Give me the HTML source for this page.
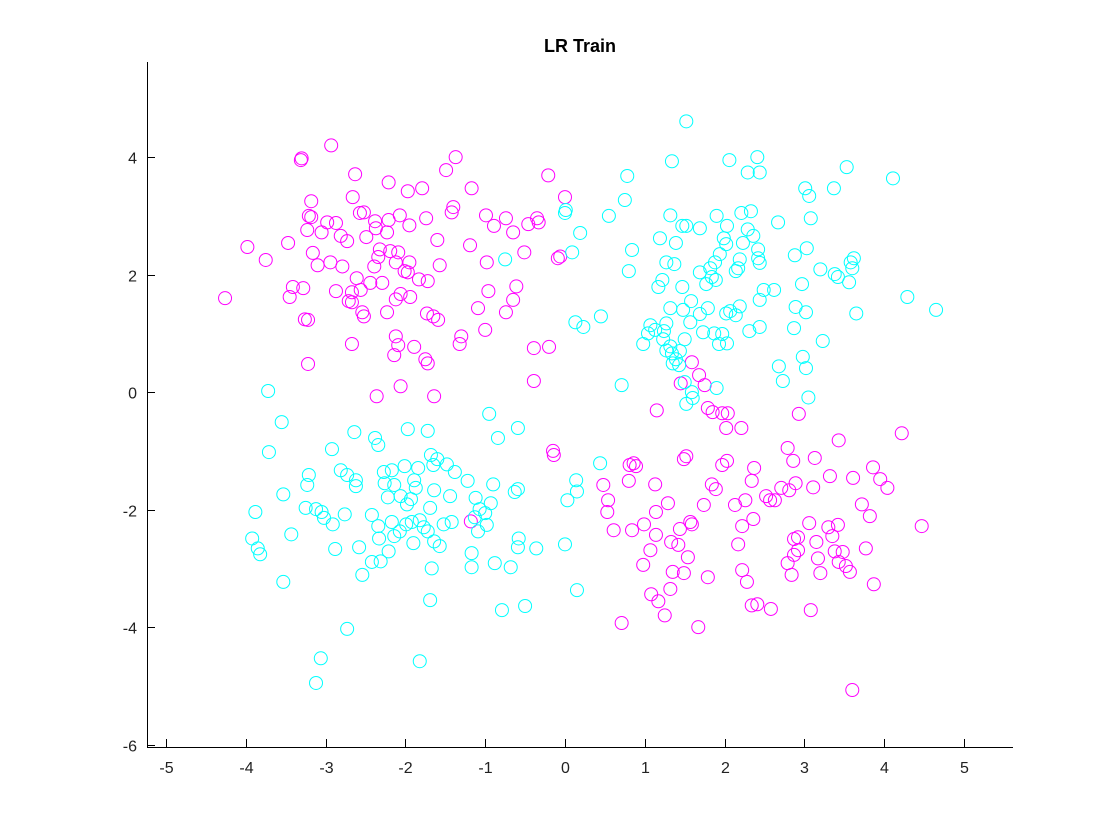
<!DOCTYPE html>
<html><head><meta charset="utf-8"><style>
body{margin:0;background:#fff;}
svg{display:block;font-family:"Liberation Sans",sans-serif;}
</style></head><body>
<svg id="chart" width="1120" height="840" viewBox="0 0 1120 840">
<rect width="1120" height="840" fill="#fff"/>
<text x="580" y="52" text-anchor="middle" font-size="18" font-weight="bold" fill="#000">LR Train</text>
<g id="marks"></g>
<g id="axes"></g>
</svg>
<script>
const xTicks=[-5,-4,-3,-2,-1,0,1,2,3,4,5];
const yTicks=[-6,-4,-2,0,2,4];
const magentaX=[-3.30,-3.31,-2.93,-1.37,-3.98,-3.75,-3.47,-4.26,-3.45,-3.41,-3.28,-3.10,-3.05,-3.21,-3.18,-3.18,-2.63,-2.21,-1.97,-1.79,-1.49,-1.17,-1.40,-1.42,-1.19,-0.99,-0.89,-0.74,-0.65,-0.46,-0.33,-0.35,-0.21,0.00,-0.09,-0.51,-0.61,-0.74,-0.98,-0.96,-1.09,-1.00,-1.30,-1.57,-1.72,-1.60,-1.74,-1.95,-1.95,-1.83,-1.94,-2.01,-1.97,-2.19,-2.21,-2.37,-2.34,-2.39,-2.57,-2.52,-2.73,-2.79,-2.87,-2.67,-2.54,-2.52,-2.71,-2.67,-2.49,-2.38,-2.23,-2.09,-2.12,-2.06,-2.12,-1.73,-1.59,-1.65,-1.75,-1.72,-1.89,-2.12,-2.09,-2.14,-2.23,-2.56,-2.94,-2.98,-2.81,-2.87,-2.61,-2.44,-2.29,-2.32,-3.23,-3.22,-3.26,-3.22,-2.67,-2.36,-2.06,-1.64,-1.18,-0.65,-0.39,-0.20,-0.39,-0.15,-0.14,-0.06,-1.32,-2.66,-2.07,-3.16,
0.48,0.54,0.53,0.81,0.86,0.89,0.80,0.61,0.84,0.98,1.08,1.17,1.25,1.42,1.44,1.49,1.54,1.52,1.49,1.57,1.59,1.74,1.79,1.84,1.89,1.97,2.03,1.97,2.02,2.13,2.17,2.26,2.22,2.28,2.36,2.34,2.52,2.57,2.71,2.81,2.63,2.37,2.21,2.04,1.85,1.79,1.75,1.68,1.59,1.45,1.15,1.13,1.14,0.99,1.14,1.33,1.35,1.32,1.29,1.07,0.71,1.67,2.22,2.34,2.58,2.87,2.87,2.79,2.84,2.92,2.89,2.79,2.86,3.13,3.11,2.93,3.43,3.32,3.61,3.86,3.95,4.04,3.72,3.82,3.42,3.30,3.35,3.38,3.48,3.43,3.52,3.17,3.15,3.20,2.92,3.77,3.87,3.08,3.57,3.06,3.60,4.22,4.47,2.41];
const magentaY=[3.98,3.95,4.20,4.00,2.47,2.25,2.54,1.60,1.62,1.79,1.77,2.16,2.72,3.00,3.25,2.98,3.71,3.57,3.42,3.47,3.78,3.47,3.15,3.06,2.50,3.01,2.83,2.96,2.72,2.86,2.89,2.96,3.69,3.32,2.28,2.38,1.80,1.36,2.21,1.72,1.43,1.06,0.95,2.16,1.89,2.59,2.96,2.84,2.21,1.92,1.62,2.06,2.04,2.40,2.93,2.79,2.30,2.14,3.05,3.06,2.57,2.14,1.72,1.53,1.36,1.29,1.55,1.70,2.64,2.91,2.72,2.38,2.21,1.67,1.58,1.34,1.23,1.29,0.56,0.49,0.77,0.95,0.80,0.63,1.36,1.74,2.21,2.89,2.66,2.88,1.94,1.86,1.86,2.43,2.76,1.23,1.24,0.48,0.82,-0.07,0.10,-0.07,-2.20,1.57,0.75,0.77,0.19,-1.00,-1.07,2.31,0.82,3.32,3.01,2.37,
-1.58,-1.84,-2.04,-1.24,-1.21,-1.26,-1.51,-2.35,-2.35,-2.94,-3.44,-3.56,-3.80,-2.60,-2.33,-3.08,-2.81,-1.09,-1.14,-2.21,-2.25,-1.92,-3.15,-1.57,-1.65,-1.24,-1.17,-0.36,-0.61,-1.92,-2.59,-1.84,-2.28,-3.23,-2.16,-1.51,-1.77,-1.84,-1.63,-1.67,-1.84,-1.29,-0.61,-0.36,-0.34,-0.27,0.12,0.29,0.51,0.15,-0.31,-1.57,-2.04,-2.25,-2.43,-2.55,-3.06,-3.35,-1.89,-2.69,-3.93,-4.00,-3.03,-3.63,-3.69,-2.50,-2.77,-2.91,-3.11,-2.47,-1.55,-0.95,-1.17,-1.12,-1.62,-0.37,-0.82,-1.43,-1.46,-1.28,-1.48,-1.63,-1.91,-2.11,-2.26,-2.30,-2.45,-2.71,-2.72,-2.89,-2.96,-2.83,-2.55,-3.08,-2.69,-2.66,-3.27,-3.71,-3.06,-2.23,-5.07,-0.70,-2.28,-3.61];
const cyanX=[-3.72,-3.55,-3.71,-3.88,-3.92,-3.82,-3.85,-3.43,-3.53,-3.21,-3.23,-3.25,-3.12,-3.02,-3.05,-2.91,-2.92,-2.73,-2.62,-2.62,-2.64,-2.38,-2.34,-2.27,-2.26,-2.22,-2.17,-2.14,-2.06,-2.01,-1.93,-1.99,-1.98,-1.92,-2.07,-2.17,-2.14,-2.34,-2.42,-2.21,-2.33,-2.31,-2.42,-2.54,-2.58,-2.76,-2.81,-2.88,-3.06,-3.12,-3.53,-2.73,-1.97,-1.89,-1.84,-1.87,-1.82,-1.90,-1.77,-1.72,-1.69,-1.72,-1.68,-1.60,-1.65,-1.64,-1.64,-1.57,-1.52,-1.42,-1.44,-1.48,-1.38,-1.22,-1.12,-1.13,-1.07,-1.09,-1.00,-0.98,-0.90,-0.95,-0.84,-0.93,-0.88,-0.79,-0.63,-0.59,-0.58,-0.59,-0.68,-0.50,-0.36,-0.59,-0.75,-1.17,-1.17,-1.67,-1.69,-1.82,0.14,0.15,0.15,0.00,0.03,0.44,
1.52,1.34,0.78,0.75,0.55,0.80,0.84,0.00,0.01,0.19,0.09,0.13,0.23,0.45,0.71,1.07,1.13,1.24,1.23,1.27,1.32,1.34,1.27,1.32,1.48,1.57,1.50,1.44,1.39,1.35,1.43,1.50,1.59,1.52,1.60,1.90,1.93,2.03,1.97,1.87,1.73,1.69,1.79,1.89,1.84,1.77,1.69,1.82,1.88,1.94,2.02,1.99,2.03,2.14,2.17,2.19,2.23,2.29,2.33,2.21,2.29,2.06,2.41,2.44,2.36,2.42,2.42,2.44,2.49,2.44,2.19,2.14,2.07,2.02,2.31,2.44,2.62,2.67,2.88,2.97,2.89,3.02,3.20,3.03,3.08,3.01,3.06,3.37,3.53,3.38,3.42,3.58,3.60,3.62,3.56,3.65,3.23,2.98,3.05,2.73,2.68,2.87,3.02,4.11,4.29,4.65,1.58,1.47,1.17,1.22,1.27,1.37,1.39,1.69,1.90,1.52,1.47,1.19,0.98,1.04,1.32];
const cyanY=[0.02,-0.51,-1.02,-2.04,-2.49,-2.76,-2.66,-2.42,-1.74,-1.41,-1.58,-1.97,-1.99,-2.14,-2.04,-2.25,-0.97,-1.41,-1.60,-1.50,-0.68,-0.78,-0.90,-1.36,-1.55,-1.79,-1.33,-1.58,-1.77,-1.26,-1.82,-2.25,-1.91,-2.21,-2.37,-2.21,-2.45,-2.28,-2.09,-2.71,-2.49,-2.88,-2.89,-3.11,-2.64,-2.08,-1.33,-2.67,-4.53,-4.95,-3.23,-4.03,-0.63,-1.50,-1.29,-1.63,-2.18,-2.57,-2.30,-2.37,-1.97,-0.66,-1.07,-1.14,-1.24,-1.67,-2.54,-2.62,-2.25,-2.21,-1.77,-1.23,-1.36,-1.51,-1.80,-2.13,-1.99,-2.37,-2.06,-2.26,-1.57,-0.37,-0.78,-1.89,-2.91,-3.71,-1.70,-1.65,-2.49,-2.64,-2.98,-3.64,-2.66,-0.61,2.26,-2.98,-2.74,-3.00,-3.54,-4.58,-1.50,-1.69,-3.37,-2.59,-1.84,-1.21,
4.61,3.93,3.68,3.27,3.00,2.06,2.42,3.05,3.10,2.71,2.38,1.19,1.11,1.29,0.12,1.14,1.06,1.04,0.90,0.71,0.78,0.66,1.17,1.43,1.40,1.19,0.90,0.70,0.56,0.49,0.46,0.17,0.00,-0.20,-0.10,0.07,0.82,0.83,0.99,1.00,1.02,1.33,1.43,1.91,1.96,1.84,2.04,2.11,2.21,2.35,2.52,2.62,2.83,2.06,2.11,2.26,2.54,2.77,3.08,3.05,3.74,3.95,4.00,3.74,2.66,2.43,2.28,2.20,1.74,1.57,1.46,1.31,1.38,1.34,1.04,1.11,1.74,2.89,2.33,1.84,1.45,1.36,2.09,2.45,2.96,3.47,3.34,3.47,3.83,2.01,1.96,2.21,2.11,2.28,1.87,1.34,0.87,0.60,-0.09,0.19,0.44,1.09,0.41,3.64,1.62,1.40,1.55,1.79,1.79,1.91,2.21,2.18,2.54,2.79,3.00,2.83,2.83,2.62,0.82,1.00,3.01];

const X0=147,X1=1013,Y0=747,Y1=62;
const xMin=-5.238,xMax=5.614,yMin=-6.04,yMax=5.62;
function sx(v){return X0+(v-xMin)/(xMax-xMin)*(X1-X0);}
function sy(v){return Y0-(v-yMin)/(yMax-yMin)*(Y0-Y1);}
const NS='http://www.w3.org/2000/svg';
const marks=document.getElementById('marks');
function drawSeries(xs,ys,color,name){
  for(let i=0;i<xs.length;i++){
    const c=document.createElementNS(NS,'circle');
    c.setAttribute('cx',sx(xs[i]));c.setAttribute('cy',sy(ys[i]));
    c.setAttribute('r',6.5);c.setAttribute('fill','none');
    c.setAttribute('stroke',color);c.setAttribute('stroke-width',1);
    
    
    marks.appendChild(c);
  }
}
drawSeries(magentaX,magentaY,'#ff00ff','magenta-point');
drawSeries(cyanX,cyanY,'#00ffff','cyan-point');

const axes=document.getElementById('axes');
function line(x1,y1,x2,y2){
  const l=document.createElementNS(NS,'line');
  l.setAttribute('x1',x1);l.setAttribute('y1',y1);l.setAttribute('x2',x2);l.setAttribute('y2',y2);
  l.setAttribute('stroke','#000');l.setAttribute('stroke-width',1);
  axes.appendChild(l);return l;
}
const xa=line(X0,Y0+0.5,X1,Y0+0.5);


const ya=line(X0+0.5,Y1,X0+0.5,Y0);


function txt(x,y,s,anchor){
  const t=document.createElementNS(NS,'text');
  t.setAttribute('x',x);t.setAttribute('y',y);t.setAttribute('text-anchor',anchor);
  t.setAttribute('font-size',16);t.setAttribute('fill','#222');t.textContent=s;
  axes.appendChild(t);return t;
}
xTicks.forEach(v=>{
  const px=Math.round(sx(v))+0.5;
  line(px,Y0,px,Y0-8);
  const t=txt(px,773,String(v),'middle');
  
  
});
yTicks.forEach(v=>{
  const py=Math.round(sy(v))+0.5;
  line(X0,py,X0+8,py);
  const t=txt(137,py+6,String(v),'end');
  
  
});
</script>
</body></html>
